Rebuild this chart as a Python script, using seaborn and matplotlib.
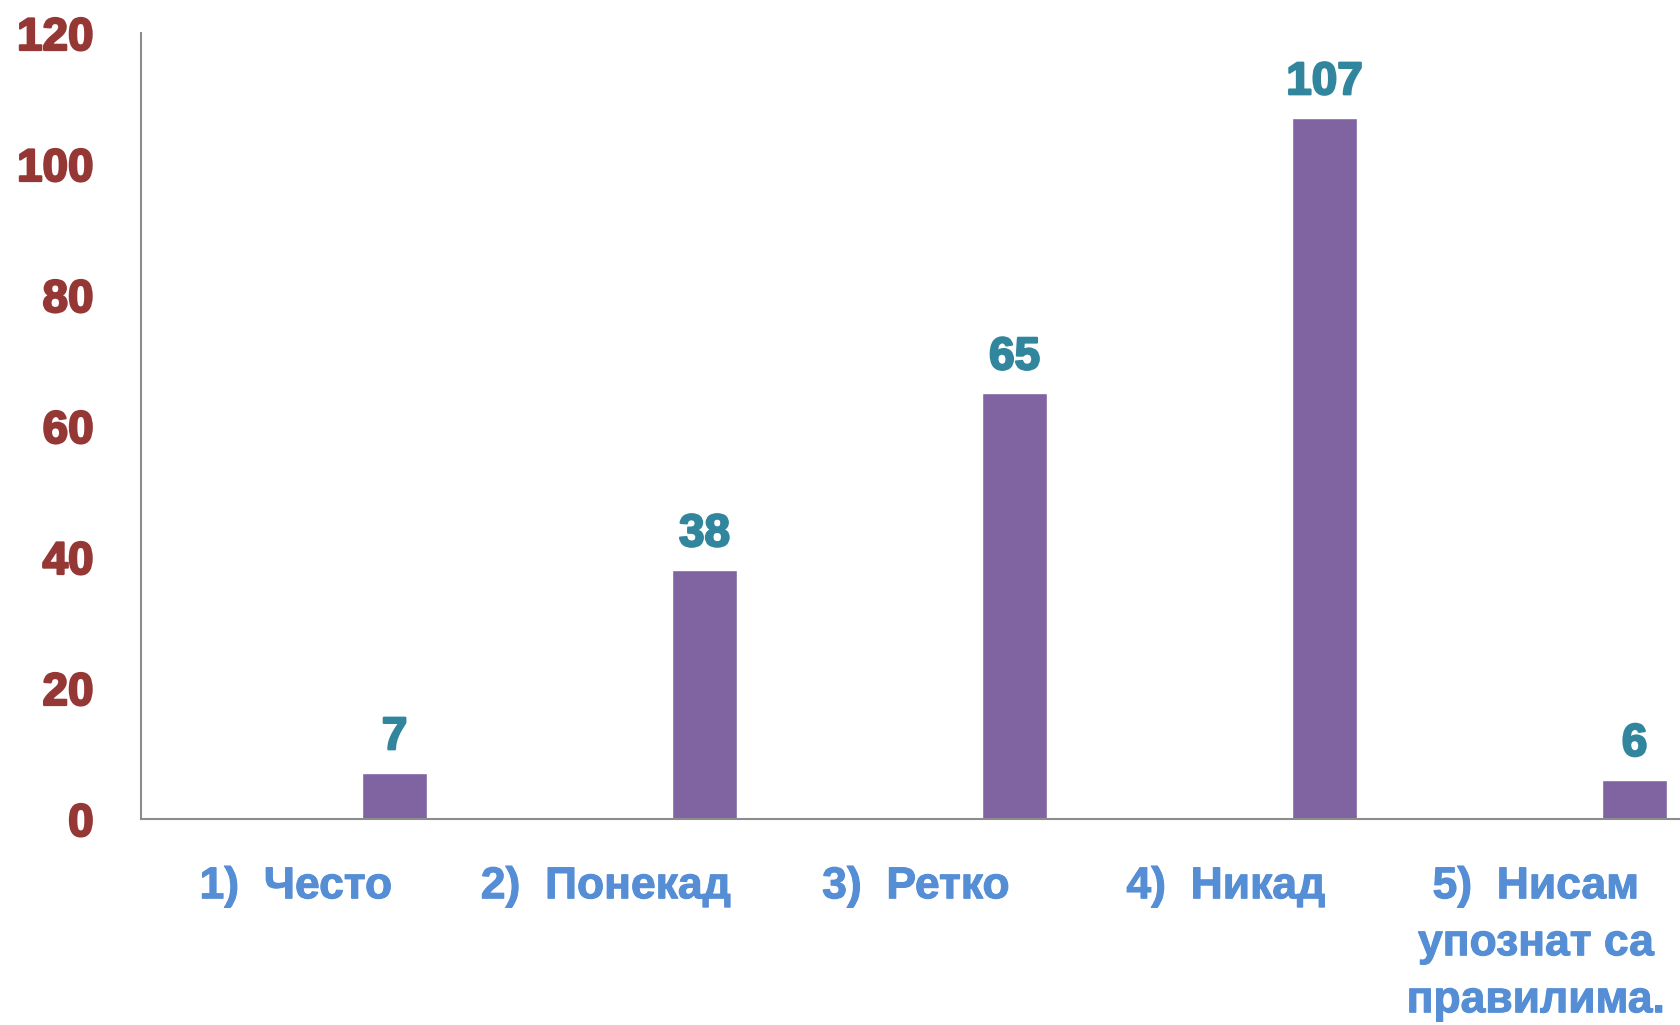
import matplotlib
matplotlib.use("Agg")
import matplotlib.pyplot as plt
import matplotlib.patheffects as pe
import seaborn as sns
import pandas as pd
import numpy as np

categories = ["1)  Често", "2)  Понекад", "3)  Ретко", "4)  Никад", "5)  Нисам\nупознат са\nправилима."]
values = [7, 38, 65, 107, 6]
y_ticks = [0, 20, 40, 60, 80, 100, 120]

sns.set_theme(style="white")
plt.rcParams['font.family'] = ['Liberation Sans', 'DejaVu Sans']

idx = np.arange(len(categories))
bar_offset = 0.318
df = pd.DataFrame({"pos": idx + bar_offset, "value": values})

fig = plt.figure(figsize=(16.8, 10.25), dpi=100)
ax = fig.add_axes([141 / 1680, (1025 - 819) / 1025, 1550 / 1680, (819 - 33) / 1025])

sns.barplot(data=df, x="pos", y="value", native_scale=True, width=0.21,
            color="#8064A2", saturation=1, ax=ax, errorbar=None)

ax.set_xlim(-0.5, 4.5)
ax.set_ylim(0, 120)
ax.set_yticks(y_ticks)
ax.set_yticklabels([str(t) for t in y_ticks], fontsize=33, fontweight="bold", color="#953735")
for t in ax.get_yticklabels():
    t.set_path_effects([pe.withStroke(linewidth=1.6, foreground="#953735")])
ax.set_xticks(idx)
ax.set_xticklabels(categories, fontsize=32, fontweight="bold", color="#558ED5", linespacing=1.5, va="top")
for t in ax.get_xticklabels():
    t.set_path_effects([pe.withStroke(linewidth=0.8, foreground="#558ED5")])
ax.tick_params(axis="y", length=0, pad=34)
ax.tick_params(axis="x", length=0, pad=34)
ax.set_xlabel("")
ax.set_ylabel("")

for c in ax.containers:
    texts = ax.bar_label(c, labels=[str(v) for v in values], padding=10, fontsize=33,
                         fontweight="bold", color="#31859C")
    for t in texts:
        t.set_path_effects([pe.withStroke(linewidth=1.6, foreground="#31859C")])

for s in ["top", "right"]:
    ax.spines[s].set_visible(False)
for s in ["left", "bottom"]:
    ax.spines[s].set_color("#8C8C8C")
    ax.spines[s].set_linewidth(1.5)
ax.grid(False)

fig.savefig("out.png", dpi=100, facecolor="white")
